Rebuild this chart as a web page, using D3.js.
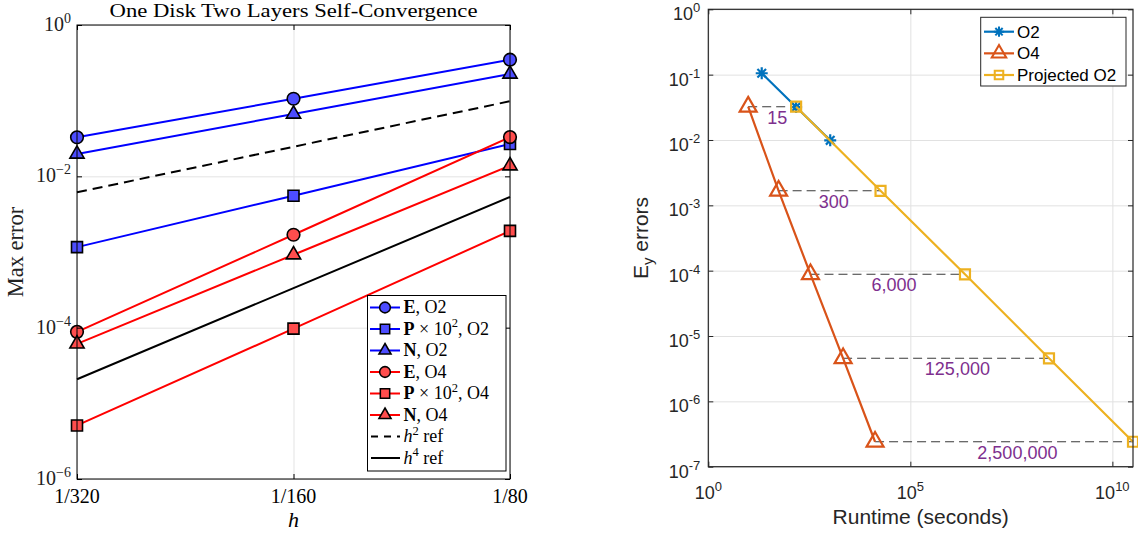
<!DOCTYPE html>
<html><head><meta charset="utf-8">
<script src="https://cdn.jsdelivr.net/npm/d3@7"></script>
<style>body{margin:0;background:#fff}svg{display:block}</style>
</head><body>
<svg id="c" width="1138" height="533"></svg>
<script>
// ---------- Left panel data ----------
const hValues = [1/320, 1/160, 1/80];
const hLabels = ["1/320", "1/160", "1/80"];
const E_O2 = [0.0328, 0.106, 0.348];
const P_O2 = [0.00116, 0.00555, 0.0267];
const N_O2 = [0.0197, 0.0667, 0.225];
const E_O4 = [8.8e-5, 0.00169, 0.0330];
const P_O4 = [5.1e-6, 9.7e-5, 0.0019];
const N_O4 = [6.1e-5, 9.2e-4, 0.0138];
const h2Ref = [0.00615, 0.0246, 0.0983];
const h4Ref = [2.08e-5, 3.33e-4, 0.00533];
const leftYTicks = [1e-6, 1e-4, 1e-2, 1];
const leftTitle = "One Disk Two Layers Self-Convergence";

// ---------- Right panel data ----------
const runtimeO2 = [21, 149, 1040];
const errorO2 = [0.105, 0.0319, 0.00989];
const runtimeO4 = [9.7, 55, 338, 2170, 13400];
const errorO4 = [0.0323, 0.00167, 8.8e-5, 4.56e-6, 2.41e-7];
const runtimeProj = [149, 18300, 2.25e6, 2.7e8, 3.24e10];
const errorProj = [0.0323, 0.00167, 8.8e-5, 4.56e-6, 2.41e-7];
const speedupLabels = ["15", "300", "6,000", "125,000", "2,500,000"];
const speedupLabelRuntime = [51, 1280, 39300, 1.46e6, 4.46e7];
const rightXTicks = [1, 1e5, 1e10];
const rightYTicks = [1e-7, 1e-6, 1e-5, 1e-4, 1e-3, 1e-2, 1e-1, 1];

const svg = d3.select("#c");
const serif = "'Liberation Serif','Times New Roman',serif";
const sans = "'Liberation Sans',Arial,Helvetica,sans-serif";

function addPow(text, base, exp, expSize, rise) {
  text.append("tspan").text(base);
  text.append("tspan").attr("font-size", expSize).attr("dy", -rise).text(exp);
}

// ================= LEFT PANEL =================
const L = {x0: 77, x1: 510, y0: 25, y1: 479};
const xL = d3.scaleLog().domain([hValues[0], hValues[hValues.length-1]]).range([L.x0, L.x1]);
const yL = d3.scaleLog().domain([1e-6, 1]).range([L.y1, L.y0]);
const gL = svg.append("g");

// grid
gL.append("g").attr("transform", `translate(0,${L.y1})`)
  .call(d3.axisBottom(xL).tickValues(hValues).tickSize(-(L.y1-L.y0)).tickFormat(""))
  .call(g => g.select(".domain").remove())
  .call(g => g.selectAll("line").attr("stroke", "#e3e3e3"));
gL.append("g").attr("transform", `translate(${L.x0},0)`)
  .call(d3.axisLeft(yL).tickValues(leftYTicks).tickSize(-(L.x1-L.x0)).tickFormat(""))
  .call(g => g.select(".domain").remove())
  .call(g => g.selectAll("line").attr("stroke", "#e3e3e3"));

// data lines
const lineL = d3.line().x((d,i) => xL(hValues[i])).y(d => yL(d));
const blue = "#0000ff", blueFill = "#4d4dff", red = "#ff0000", redFill = "#ff4d4d";
const symCircle = d3.symbol(d3.symbolCircle, 125)();
const symSquare = d3.symbol(d3.symbolSquare, 121)();
const symTri = d3.symbol(d3.symbolTriangle, 88)();

const leftSeries = [
  {vals: E_O2, color: blue, fill: blueFill, sym: symCircle},
  {vals: P_O2, color: blue, fill: blueFill, sym: symSquare},
  {vals: N_O2, color: blue, fill: blueFill, sym: symTri},
  {vals: E_O4, color: red, fill: redFill, sym: symCircle},
  {vals: P_O4, color: red, fill: redFill, sym: symSquare},
  {vals: N_O4, color: red, fill: redFill, sym: symTri}
];
leftSeries.forEach(s => {
  gL.append("path").attr("d", lineL(s.vals)).attr("fill", "none")
    .attr("stroke", s.color).attr("stroke-width", 2);
  gL.selectAll(null).data(s.vals).join("path")
    .attr("d", s.sym)
    .attr("transform", (d,i) => `translate(${xL(hValues[i])},${yL(d)})`)
    .attr("fill", s.fill).attr("stroke", "#000").attr("stroke-width", 1.6);
});
gL.append("path").attr("d", lineL(h2Ref)).attr("fill", "none")
  .attr("stroke", "#000").attr("stroke-width", 2).attr("stroke-dasharray", "10,6");
gL.append("path").attr("d", lineL(h4Ref)).attr("fill", "none")
  .attr("stroke", "#000").attr("stroke-width", 2);

// axes ticks
gL.append("g").attr("transform", `translate(0,${L.y1})`)
  .call(d3.axisBottom(xL).tickValues(hValues).tickSize(-5).tickSizeOuter(0).tickFormat(""))
  .call(g => g.select(".domain").remove())
  .call(g => g.selectAll("line").attr("stroke", "#000"));
gL.append("g").attr("transform", `translate(0,${L.y0})`)
  .call(d3.axisTop(xL).tickValues(hValues).tickSize(-5).tickSizeOuter(0).tickFormat(""))
  .call(g => g.select(".domain").remove())
  .call(g => g.selectAll("line").attr("stroke", "#000"));
gL.append("g").attr("transform", `translate(${L.x0},0)`)
  .call(d3.axisLeft(yL).tickValues(leftYTicks).tickSize(-5).tickSizeOuter(0).tickFormat(""))
  .call(g => g.select(".domain").remove())
  .call(g => g.selectAll("line").attr("stroke", "#000"));
gL.append("g").attr("transform", `translate(${L.x1},0)`)
  .call(d3.axisRight(yL).tickValues(leftYTicks).tickSize(-5).tickSizeOuter(0).tickFormat(""))
  .call(g => g.select(".domain").remove())
  .call(g => g.selectAll("line").attr("stroke", "#000"));
gL.append("rect").attr("x", L.x0).attr("y", L.y0).attr("width", L.x1-L.x0).attr("height", L.y1-L.y0)
  .attr("fill", "none").attr("stroke", "#000").attr("stroke-width", 1);

// tick labels
hValues.forEach((h, i) => {
  gL.append("text").attr("x", xL(h)).attr("y", 502.5).attr("text-anchor", "middle")
    .attr("font-family", serif).attr("font-size", 20).attr("fill", "#000").text(hLabels[i]);
});
leftYTicks.forEach(v => {
  const e = Math.round(Math.log10(v));
  const t = gL.append("text").attr("x", L.x0 - 6).attr("y", yL(v) + 6).attr("text-anchor", "end")
    .attr("font-family", serif).attr("font-size", 20).attr("fill", "#222");
  addPow(t, "10", e === 0 ? "0" : "\u2212" + Math.abs(e), 14, 8);
});
// title & labels
gL.append("text").attr("x", (L.x0+L.x1)/2).attr("y", 17).attr("text-anchor", "middle")
  .attr("font-family", serif).attr("font-size", 19.5).attr("fill", "#000")
  .attr("textLength", 368).attr("lengthAdjust", "spacingAndGlyphs").text(leftTitle);
gL.append("text").attr("x", (L.x0+L.x1)/2).attr("y", 527).attr("text-anchor", "middle")
  .attr("font-family", serif).attr("font-style", "italic").attr("font-size", 22).text("h");
gL.append("text").attr("transform", `translate(23,${(L.y0+L.y1)/2}) rotate(-90)`)
  .attr("text-anchor", "middle").attr("font-family", serif).attr("font-size", 22.5)
  .attr("fill", "#222").text("Max error");

// legend
const lg = gL.append("g");
lg.append("rect").attr("x", 367.5).attr("y", 295.5).attr("width", 138.5).attr("height", 175.5)
  .attr("fill", "#fff").attr("stroke", "#000").attr("stroke-width", 1);
const legItems = [
  {s: leftSeries[0], parts: [["E","bold"],[", O2"]]},
  {s: leftSeries[1], parts: [["P","bold"],[" \u00d7 10"],["2","sup"],[", O2"]]},
  {s: leftSeries[2], parts: [["N","bold"],[", O2"]]},
  {s: leftSeries[3], parts: [["E","bold"],[", O4"]]},
  {s: leftSeries[4], parts: [["P","bold"],[" \u00d7 10"],["2","sup"],[", O4"]]},
  {s: leftSeries[5], parts: [["N","bold"],[", O4"]]},
  {dash: "7,6", parts: [["h","it"],["2","sup"],[" ref"]]},
  {dash: null, parts: [["h","it"],["4","sup"],[" ref"]]}
];
legItems.forEach((it, i) => {
  const y = 307.5 + i * 21.5;
  if (it.s) {
    lg.append("line").attr("x1", 370).attr("x2", 400).attr("y1", y).attr("y2", y)
      .attr("stroke", it.s.color).attr("stroke-width", 2);
    lg.append("path").attr("d", it.s.sym).attr("transform", `translate(385,${y}) scale(0.85)`)
      .attr("fill", it.s.fill).attr("stroke", "#000").attr("stroke-width", 1.8);
  } else {
    lg.append("line").attr("x1", 371).attr("x2", 400).attr("y1", y).attr("y2", y)
      .attr("stroke", "#000").attr("stroke-width", 2)
      .attr("stroke-dasharray", it.dash ? it.dash : null);
  }
  const t = lg.append("text").attr("x", 403.5).attr("y", y + 5.5)
    .attr("font-family", serif).attr("font-size", 18).attr("fill", "#000");
  let raised = false;
  it.parts.forEach(p => {
    const ts = t.append("tspan").text(p[0]);
    if (p[1] === "bold") ts.attr("font-weight", "bold");
    if (p[1] === "it") ts.attr("font-style", "italic");
    if (p[1] === "sup") { ts.attr("font-size", 12.5).attr("dy", -7.5); raised = true; }
    else if (raised) { ts.attr("dy", 7.5); raised = false; }
  });
});

// ================= RIGHT PANEL =================
const R = {x0: 708.3, x1: 1133, y0: 9.3, y1: 466.7};
const xR = d3.scaleLog().domain([1, d3.max(runtimeProj)]).range([R.x0, R.x1]);
const yR = d3.scaleLog().domain([1e-7, 1]).range([R.y1, R.y0]);
const gR = svg.append("g");
const axisCol = "#262626", gridCol = "#e1e1e1";

gR.append("g").attr("transform", `translate(0,${R.y1})`)
  .call(d3.axisBottom(xR).tickValues(rightXTicks).tickSize(-(R.y1-R.y0)).tickFormat(""))
  .call(g => g.select(".domain").remove())
  .call(g => g.selectAll("line").attr("stroke", gridCol));
gR.append("g").attr("transform", `translate(${R.x0},0)`)
  .call(d3.axisLeft(yR).tickValues(rightYTicks).tickSize(-(R.x1-R.x0)).tickFormat(""))
  .call(g => g.select(".domain").remove())
  .call(g => g.selectAll("line").attr("stroke", gridCol));

const cO2 = "#0072BD", cO4 = "#D95319", cProj = "#EDB120", cLab = "#7E2F8E";
const lineR = d3.line().x(d => xR(d[0])).y(d => yR(d[1]));
const starPath = "M-6,0L6,0M0,-6L0,6M-4.3,-4.3L4.3,4.3M-4.3,4.3L4.3,-4.3";
const triR = d3.symbol(d3.symbolTriangle, 125)();
const sqR = d3.symbol(d3.symbolSquare, 100)();

const rightSeries = [
  {name: "O2", x: runtimeO2, y: errorO2, color: cO2, sym: starPath, w: 2.2},
  {name: "O4", x: runtimeO4, y: errorO4, color: cO4, sym: triR, w: 2.2},
  {name: "Projected O2", x: runtimeProj, y: errorProj, color: cProj, sym: sqR, w: 2.2}
];
// dashed connectors
runtimeO4.forEach((r, i) => {
  gR.append("line").attr("x1", xR(r)).attr("x2", xR(runtimeProj[i]))
    .attr("y1", yR(errorO4[i])).attr("y2", yR(errorO4[i]))
    .attr("stroke", "#3a3a3a").attr("stroke-width", 1.1).attr("stroke-dasharray", "9,5");
});
rightSeries.forEach(s => {
  const pts = s.x.map((v, i) => [v, s.y[i]]);
  gR.append("path").attr("d", lineR(pts)).attr("fill", "none")
    .attr("stroke", s.color).attr("stroke-width", s.w);
  gR.selectAll(null).data(pts).join("path")
    .attr("d", s.sym).attr("transform", d => `translate(${xR(d[0])},${yR(d[1])})`)
    .attr("fill", "none").attr("stroke", s.color).attr("stroke-width", 2.2);
});
// speedup labels
speedupLabels.forEach((lab, i) => {
  gR.append("text").attr("x", xR(speedupLabelRuntime[i])).attr("y", yR(errorO4[i]) + 17)
    .attr("text-anchor", "middle").attr("font-family", sans).attr("font-size", 18)
    .attr("fill", cLab).text(lab);
});

// ticks
gR.append("g").attr("transform", `translate(0,${R.y1})`)
  .call(d3.axisBottom(xR).tickValues(rightXTicks).tickSize(-5).tickSizeOuter(0).tickFormat(""))
  .call(g => g.select(".domain").remove())
  .call(g => g.selectAll("line").attr("stroke", axisCol));
gR.append("g").attr("transform", `translate(0,${R.y0})`)
  .call(d3.axisTop(xR).tickValues(rightXTicks).tickSize(-5).tickSizeOuter(0).tickFormat(""))
  .call(g => g.select(".domain").remove())
  .call(g => g.selectAll("line").attr("stroke", axisCol));
gR.append("g").attr("transform", `translate(${R.x0},0)`)
  .call(d3.axisLeft(yR).tickValues(rightYTicks).tickSize(-5).tickSizeOuter(0).tickFormat(""))
  .call(g => g.select(".domain").remove())
  .call(g => g.selectAll("line").attr("stroke", axisCol));
gR.append("g").attr("transform", `translate(${R.x1},0)`)
  .call(d3.axisRight(yR).tickValues(rightYTicks).tickSize(-5).tickSizeOuter(0).tickFormat(""))
  .call(g => g.select(".domain").remove())
  .call(g => g.selectAll("line").attr("stroke", axisCol));
gR.append("rect").attr("x", R.x0).attr("y", R.y0).attr("width", R.x1-R.x0).attr("height", R.y1-R.y0)
  .attr("fill", "none").attr("stroke", axisCol).attr("stroke-width", 1.2);

rightXTicks.forEach(v => {
  const t = gR.append("text").attr("x", xR(v)).attr("y", 498.5).attr("text-anchor", "middle")
    .attr("font-family", sans).attr("font-size", 18).attr("fill", axisCol);
  addPow(t, "10", String(Math.round(Math.log10(v))), 13, 8);
});
rightYTicks.forEach(v => {
  const t = gR.append("text").attr("x", R.x0 - 8).attr("y", yR(v) + 11).attr("text-anchor", "end")
    .attr("font-family", sans).attr("font-size", 18).attr("fill", axisCol);
  addPow(t, "10", String(Math.round(Math.log10(v))), 13, 8);
});
gR.append("text").attr("x", (R.x0+R.x1)/2).attr("y", 523.5).attr("text-anchor", "middle")
  .attr("font-family", sans).attr("font-size", 21).attr("fill", axisCol).text("Runtime (seconds)");
const yl = gR.append("text").attr("transform", `translate(648,${(R.y0+R.y1)/2}) rotate(-90)`)
  .attr("text-anchor", "middle").attr("font-family", sans).attr("font-size", 21).attr("fill", axisCol);
yl.append("tspan").text("E");
yl.append("tspan").attr("font-size", 15).attr("dy", 5).text("y");
yl.append("tspan").attr("dy", -5).text(" errors");

// legend
const lr = gR.append("g");
lr.append("rect").attr("x", 980.7).attr("y", 17.3).attr("width", 145.3).attr("height", 68.7)
  .attr("fill", "#fff").attr("stroke", axisCol).attr("stroke-width", 1);
rightSeries.forEach((s, i) => {
  const y = 31.7 + i * 21.65;
  lr.append("line").attr("x1", 984).attr("x2", 1014).attr("y1", y).attr("y2", y)
    .attr("stroke", s.color).attr("stroke-width", 2.2);
  lr.append("path").attr("d", s.sym).attr("transform", `translate(999,${y}) scale(0.85)`)
    .attr("fill", "none").attr("stroke", s.color).attr("stroke-width", 2.4);
  lr.append("text").attr("x", 1017).attr("y", y + 6).attr("font-family", sans)
    .attr("font-size", 17).attr("fill", "#000").text(s.name);
});
</script>
</body></html>
